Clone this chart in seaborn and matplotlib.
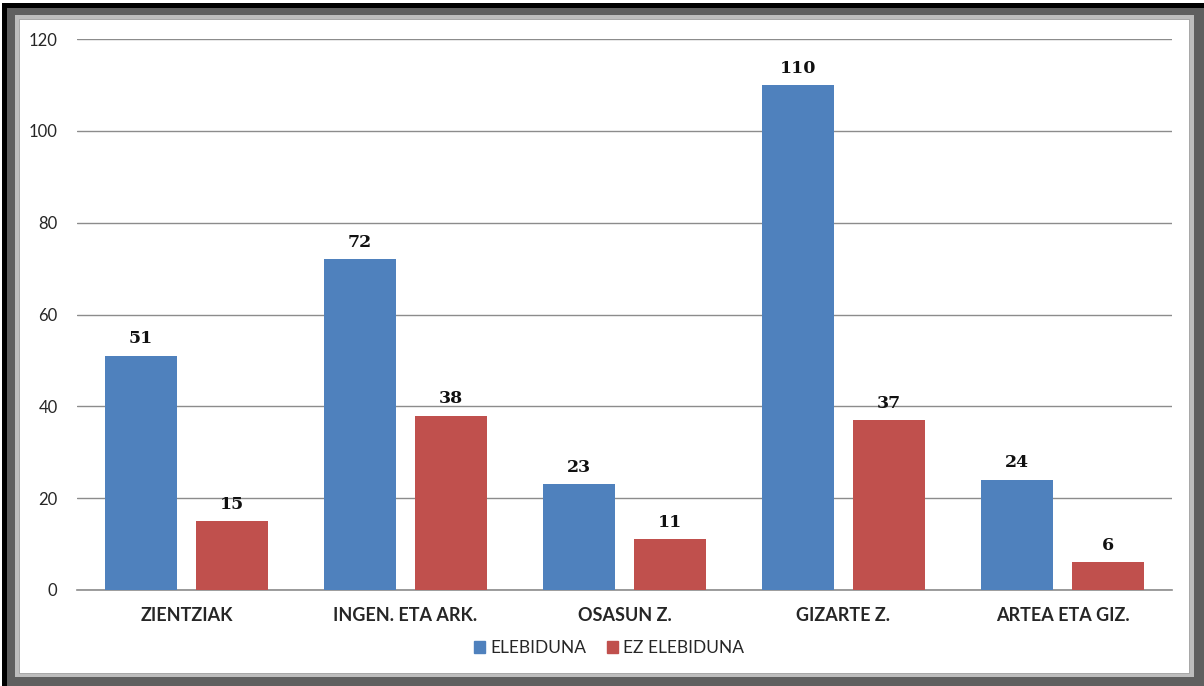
import matplotlib
matplotlib.use("Agg")
import matplotlib.pyplot as plt
from matplotlib.patches import Rectangle
import seaborn as sns
import pandas as pd

# datuak
kategoriak = ["ZIENTZIAK", "INGEN. ETA ARK.", "OSASUN Z.", "GIZARTE Z.", "ARTEA ETA GIZ."]
elebiduna = [51, 72, 23, 110, 24]
ez_elebiduna = [15, 38, 11, 37, 6]
serieak = ["ELEBIDUNA", "EZ ELEBIDUNA"]
y_ticks = [0, 20, 40, 60, 80, 100, 120]

kolore_urdina = "#4F81BD"
kolore_gorria = "#C0504D"

df = pd.DataFrame({
    "kategoria": kategoriak * 2,
    "kopurua": elebiduna + ez_elebiduna,
    "mota": [serieak[0]] * len(kategoriak) + [serieak[1]] * len(kategoriak),
})

sns.set_style("white")
plt.rcParams["font.family"] = ["Lato", "DejaVu Sans"]

W, H = 1204, 686
fig = plt.figure(figsize=(W / 100, H / 100), dpi=100)
fig.patch.set_facecolor("white")

def px_rect(x0, y0, x1, y1, color):
    # pixel coords, y from top
    fig.patches.append(Rectangle((x0 / W, 1 - y1 / H), (x1 - x0) / W, (y1 - y0) / H,
                                 transform=fig.transFigure, facecolor=color,
                                 edgecolor="none", zorder=-10))

# frame
px_rect(2, 3, W, H, "#000000")
px_rect(7, 8, W, H, "#5F5F5F")
px_rect(15, 15, 1194, 677, "#BDBDBD")
px_rect(19, 19, 1190, 674, "#A8A8A8")
px_rect(20, 20, 1189, 673, "#FFFFFF")

ax = fig.add_axes([77 / W, (H - 590) / H, (1172 - 77) / W, (590 - 39) / H])
ax.set_facecolor("none")

sns.barplot(data=df, x="kategoria", y="kopurua", hue="mota",
            palette=[kolore_urdina, kolore_gorria], saturation=1,
            width=0.83, gap=0.2, ax=ax, zorder=3, linewidth=0)

for c in ax.containers:
    ax.bar_label(c, padding=6, fontsize=12.5, fontweight="bold",
                 family="DejaVu Serif", color="#111111")

ax.set_ylim(0, 120)
ax.set_xlim(-0.5, len(kategoriak) - 0.5)
ax.set_yticks(y_ticks)
ax.yaxis.grid(True, color="#8C8C8C", linewidth=1)
ax.set_axisbelow(True)
ax.set_xlabel("")
ax.set_ylabel("")
for s in ["top", "left", "right"]:
    ax.spines[s].set_visible(False)
ax.spines["bottom"].set_color("#8C8C8C")
ax.spines["bottom"].set_linewidth(1.2)
ax.tick_params(axis="both", length=0)
ax.tick_params(axis="y", labelsize=12, pad=14)
ax.tick_params(axis="x", labelsize=13, pad=12)
for t in ax.get_xticklabels():
    t.set_fontweight("bold")

ax.legend_.remove()
handles = [Rectangle((0, 0), 1, 1, color=kolore_urdina), Rectangle((0, 0), 1, 1, color=kolore_gorria)]
fig.legend(handles, serieak, loc="center", bbox_to_anchor=(609 / W, 1 - 648 / H),
           ncol=2, frameon=False, fontsize=12.5, handlelength=0.65, handleheight=0.65,
           handletextpad=0.3, columnspacing=1.2)

fig.savefig("out.png", dpi=100)
